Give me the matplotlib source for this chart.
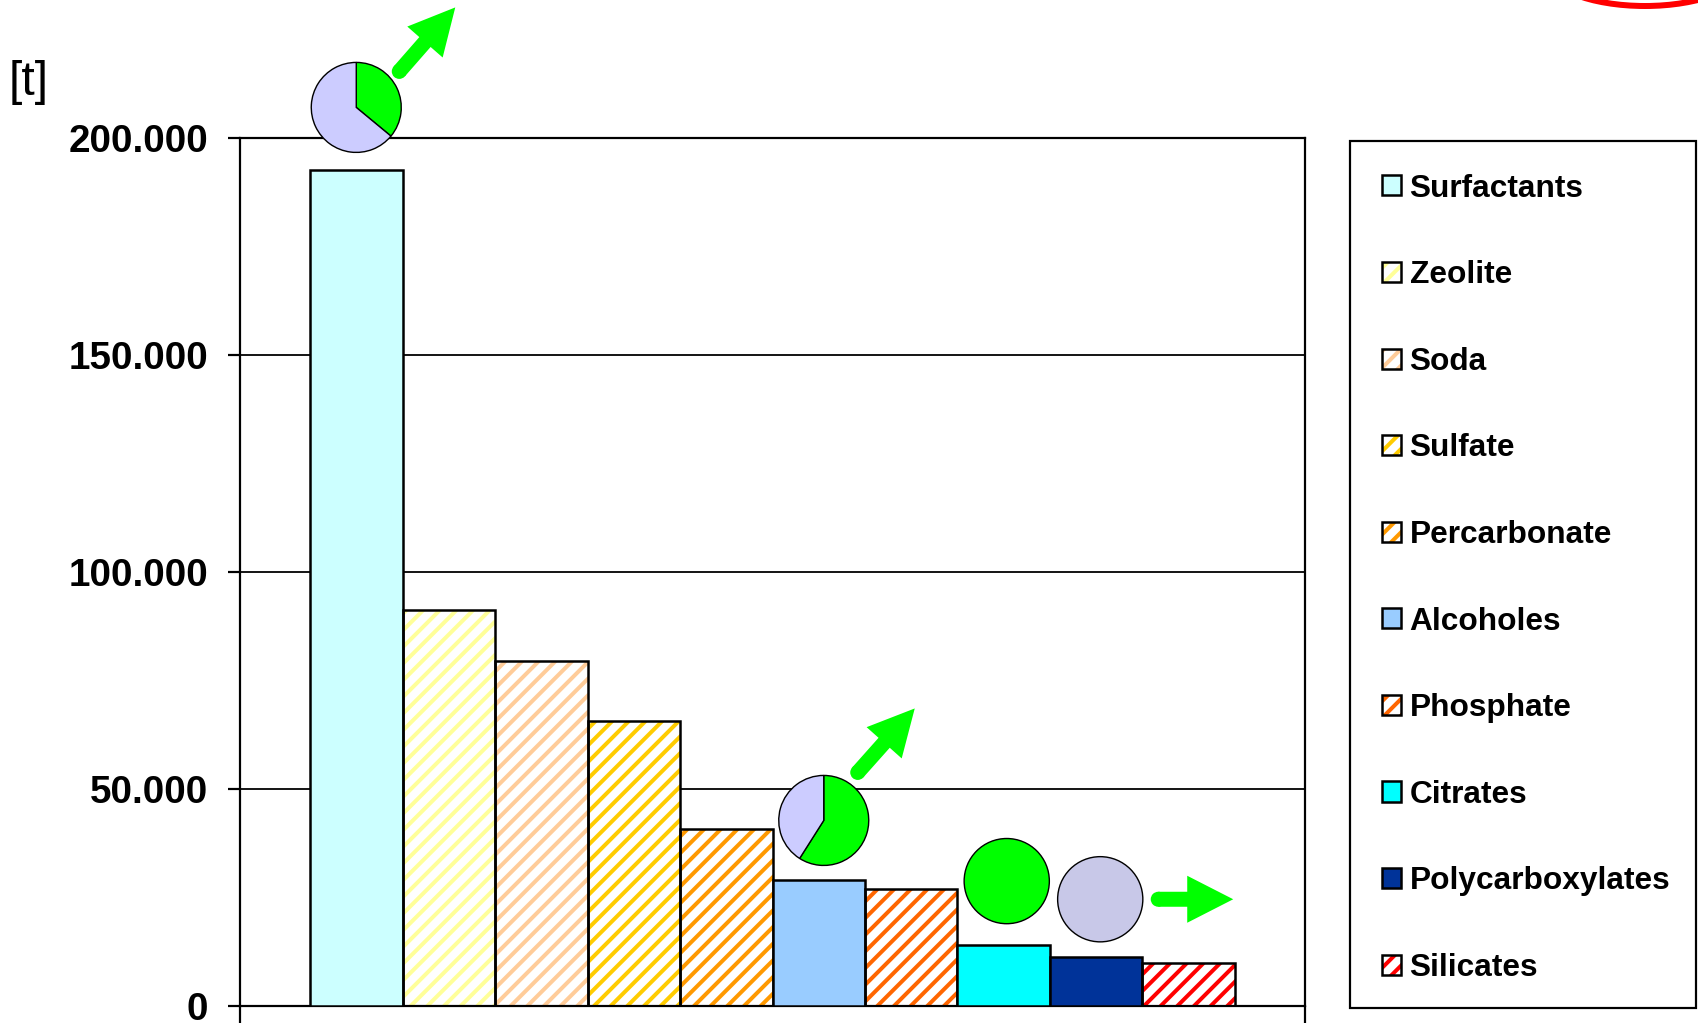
import numpy as np  # for math
import matplotlib
matplotlib.use('Agg')
import matplotlib.pyplot as plt  # for plotting
import matplotlib.patches as pch  # for pies, arrows and legend handles
from matplotlib.legend_handler import HandlerTuple

# data (tonnes per year)
materials = ['Surfactants', 'Zeolite', 'Soda', 'Sulfate', 'Percarbonate',
             'Alcoholes', 'Phosphate', 'Citrates', 'Polycarboxylates', 'Silicates']
tonnes = [192600, 91400, 79600, 65700, 40900, 29000, 27000, 14100, 11300, 9900]

# solid fill or hatch colour for every bar
fills = ['#CCFFFF', None, None, None, None, '#99CCFF', None, '#00FFFF', '#003399', None]
hatch_colors = [None, '#FFFF99', '#FFCC99', '#FFCC00', '#FF9900', None, '#FF6600', None, None, '#FF0000']

y_ticks = [0, 50000, 100000, 150000, 200000]
y_labels = [f'{v:,}'.replace(',', '.') for v in y_ticks]

# little pies sitting on some bars: bar index and green share
pie_bars = [0, 5, 7, 8]
pie_green = [0.36, 0.59, 1.0, 0.0]

W, H, DPI = 1698, 1023, 150
PT = 72 / DPI  # points per pixel
GREEN = '#00FF00'
HATCH = '///'

plt.rcParams['font.family'] = ['Liberation Sans', 'DejaVu Sans']
plt.rcParams['hatch.linewidth'] = 4.0 * PT

fig = plt.figure(figsize=(W / DPI, H / DPI), dpi=DPI)
ax = fig.add_axes([240 / W, 16.7 / H, 1065 / W, 868 / H])

# bars
for i in range(len(materials)):
    if hatch_colors[i]:
        ax.bar(i, tonnes[i], width=1.0, color='white', edgecolor=hatch_colors[i],
               hatch=HATCH, lw=0, zorder=2)
        ax.bar(i, tonnes[i], width=1.0, fill=False, edgecolor='black', lw=2.5 * PT, zorder=3)
    else:
        ax.bar(i, tonnes[i], width=1.0, color=fills[i], edgecolor='black', lw=2.5 * PT, zorder=3)

ax.set_xlim(-1.257, len(materials) - 1 + 1.257)
ax.set_ylim(0, 200000)
ax.set_yticks(y_ticks)
ax.set_yticklabels(y_labels, fontweight='bold', fontsize=38.7 * PT)
ax.tick_params(axis='y', direction='out', length=12 * PT, width=2.2 * PT, pad=20 * PT)
ax.set_xticks(ax.get_xlim())
ax.set_xticklabels([])
ax.tick_params(axis='x', direction='out', length=17 * PT, width=2.2 * PT)
ax.yaxis.grid(True, color='black', lw=1.8 * PT)
ax.set_axisbelow(True)
for s in ax.spines.values():
    s.set_color('black')
    s.set_linewidth(2.2 * PT)

# overlay in pixel units for pies, arrows, legend frame
ov = fig.add_axes([0, 0, 1, 1], zorder=5)
ov.set_xlim(0, W)
ov.set_ylim(0, H)
ov.axis('off')

pie_dx = [0, 5, 3, 4]
pie_lift = [63, 60, 64, 58]
pie_r = [45, 45, 42.6, 42.6]
centers = []
for k, b in enumerate(pie_bars):
    bx, by = ax.transData.transform((b, tonnes[b]))
    cx, cy = bx + pie_dx[k], by + pie_lift[k]
    centers.append((cx, cy))
    g = pie_green[k]
    if g >= 1:
        ov.add_patch(pch.Circle((cx, cy), pie_r[k], fc=GREEN, ec='black', lw=1.4 * PT))
    elif g <= 0:
        ov.add_patch(pch.Circle((cx, cy), pie_r[k], fc='#C8C8E8', ec='black', lw=1.4 * PT))
    else:
        a = 90 - 360 * g
        ov.add_patch(pch.Wedge((cx, cy), pie_r[k], a, 90, fc=GREEN, ec='black', lw=1.4 * PT))
        ov.add_patch(pch.Wedge((cx, cy), pie_r[k], 90, a + 360, fc='#CCCCFF', ec='black', lw=1.4 * PT))

# green arrows: pie index, tail offset, tip offset (pixels)
arrows = [(0, 43, 36, 99, 100), (1, 34, 48, 91, 112), (3, 58, 0, 133, 0)]
for k, tx, ty, hx, hy in arrows:
    cx, cy = centers[k]
    ov.add_patch(pch.FancyArrow(cx + tx, cy + ty, hx - tx, hy - ty, width=15, head_width=47,
                                head_length=46, length_includes_head=True, fc=GREEN, ec='none'))
    ov.add_patch(pch.Circle((cx + tx, cy + ty), 7.5, fc=GREEN, ec='none'))

# red ellipse cut off at the top right
ov.add_patch(pch.Arc((1645, 1057), 200, 80, theta1=180, theta2=360, color='red', lw=6 * PT))

# legend
handles = []
for i in range(len(materials)):
    if hatch_colors[i]:
        handles.append((pch.Patch(fc='white', ec=hatch_colors[i], hatch=HATCH, lw=0),
                        pch.Patch(fc='none', ec='black', lw=2.5 * PT)))
    else:
        handles.append(pch.Patch(fc=fills[i], ec='black', lw=2.5 * PT))
fig.legend(handles, materials, loc='upper left', bbox_to_anchor=(1381.7 / W, 1 - 173.6 / H),
           bbox_transform=fig.transFigure, frameon=False, borderpad=0, borderaxespad=0,
           handlelength=0.6, handleheight=0.6, handletextpad=0.28, labelspacing=1.785,
           prop={'weight': 'bold', 'size': 31.7 * PT},
           handler_map={tuple: HandlerTuple(ndivide=1, pad=0)})
ov.add_patch(pch.Rectangle((1350, H - 1008.3), 346, 1008.3 - 140.8, fill=False,
                           ec='black', lw=2.2 * PT))

fig.text(29 / W, 1 - 82.5 / H, '[t]', ha='center', va='center', fontsize=48 * PT)

fig.savefig('out.png', dpi=DPI)
